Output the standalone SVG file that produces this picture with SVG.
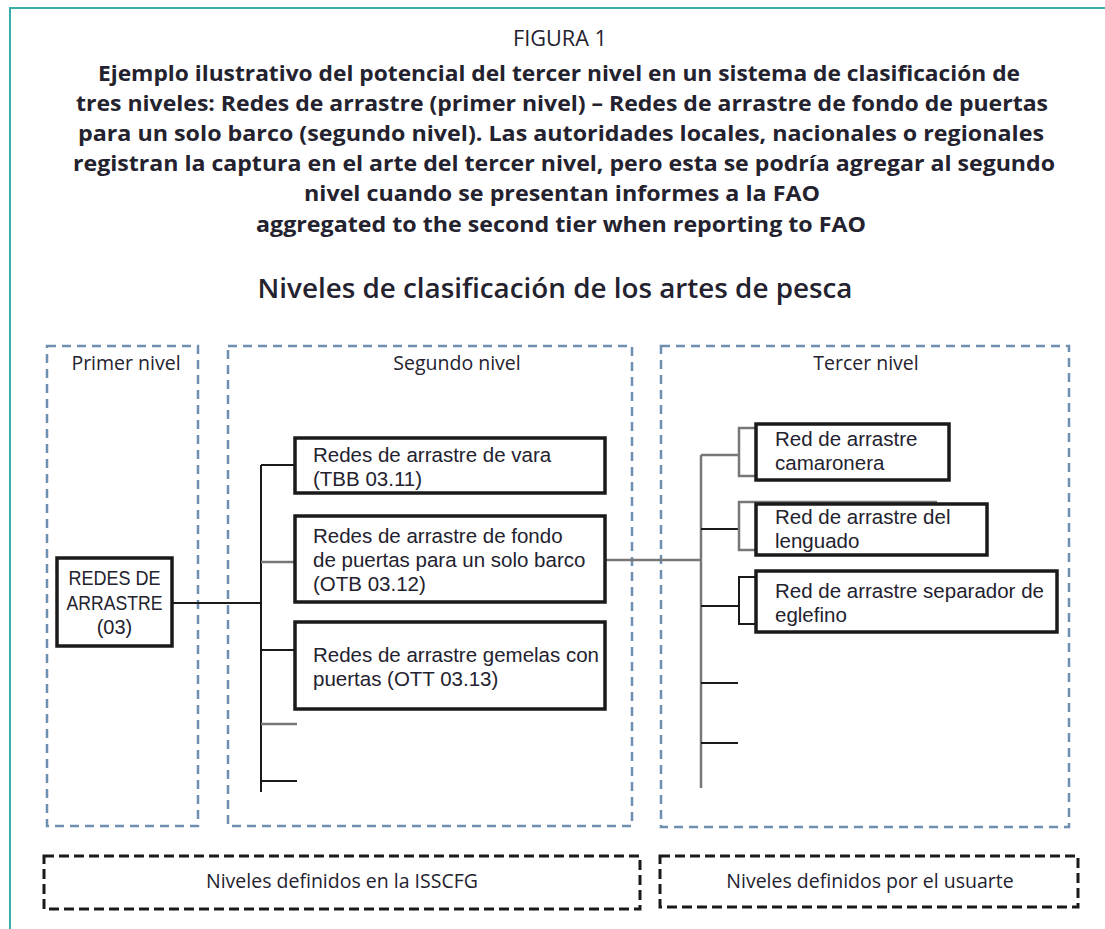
<svg xmlns="http://www.w3.org/2000/svg" width="1105" height="929" viewBox="0 0 1105 929">
<style>
text{font-family:"Open Sans","Noto Sans","Liberation Sans",sans-serif;fill:#23222e}
.t{font-size:21.5px;font-weight:bold;text-anchor:middle}
.lvl{fill:none;stroke:#6e8fb0;stroke-width:2.5;stroke-dasharray:9 6}
.lab{font-size:19.5px;text-anchor:middle}
.node{fill:#fff;stroke:#1a1a1a;stroke-width:3.5}
.nt{font-family:"Liberation Sans",Arial,sans-serif;font-size:20.5px}
.nc{font-family:"Liberation Sans",Arial,sans-serif;font-size:20px;text-anchor:middle}
.blk{fill:none;stroke:#1a1a1a;stroke-width:2}
.gry{fill:none;stroke:#777;stroke-width:2.5}
.foot{fill:none;stroke:#1a1a1a;stroke-width:3;stroke-dasharray:10 5}
</style>
<rect x="0" y="0" width="1105" height="929" fill="#fff"/>
<rect x="10" y="8" width="1120" height="940" fill="none" stroke="#3aaea8" stroke-width="2"/>
<g id="title">
<text x="560" y="46" font-size="21.5" text-anchor="middle" textLength="94" lengthAdjust="spacingAndGlyphs">FIGURA 1</text>
<text class="t" x="559" y="81" textLength="922" lengthAdjust="spacingAndGlyphs">Ejemplo ilustrativo del potencial del tercer nivel en un sistema de clasificación de</text>
<text class="t" x="562" y="111" textLength="972" lengthAdjust="spacingAndGlyphs">tres niveles: Redes de arrastre (primer nivel) – Redes de arrastre de fondo de puertas</text>
<text class="t" x="561" y="141" textLength="966" lengthAdjust="spacingAndGlyphs">para un solo barco (segundo nivel). Las autoridades locales, nacionales o regionales</text>
<text class="t" x="564" y="171" textLength="982" lengthAdjust="spacingAndGlyphs">registran la captura en el arte del tercer nivel, pero esta se podría agregar al segundo</text>
<text class="t" x="562" y="201" textLength="516" lengthAdjust="spacingAndGlyphs">nivel cuando se presentan informes a la FAO</text>
<text class="t" x="561" y="232" textLength="610" lengthAdjust="spacingAndGlyphs">aggregated to the second tier when reporting to FAO</text>
<text x="555" y="298" font-size="27" font-weight="600" text-anchor="middle" textLength="595" lengthAdjust="spacingAndGlyphs">Niveles de clasificación de los artes de pesca</text>
</g>
<g id="level1"><rect class="lvl" x="47" y="346" width="151" height="480"/><text class="lab" x="126" y="370">Primer nivel</text></g>
<g id="level2"><rect class="lvl" x="228" y="346" width="404" height="480"/><text class="lab" x="457" y="370">Segundo nivel</text></g>
<g id="level3"><rect class="lvl" x="661" y="346" width="408" height="481"/><text class="lab" x="866" y="370">Tercer nivel</text></g>
<g id="connectors">
<path class="blk" d="M172,603 H261"/>
<path class="blk" d="M261,465 V792"/>
<path class="blk" d="M261,465 H295"/>
<path class="gry" d="M261,562 H295"/>
<path class="blk" d="M261,650 H295"/>
<path class="gry" d="M261,724 H297"/>
<path class="blk" d="M261,781 H297"/>
<path class="gry" d="M605,560 H701"/>
<path class="gry" d="M701,455 V788"/>
<path class="gry" d="M701,455 H739"/>
<path class="gry" d="M756,428 H739 V476 H756"/>
<path class="blk" d="M701,529 H739"/>
<path class="gry" d="M937,502 H739 V550 H756"/>
<path class="blk" d="M701,606 H739"/>
<path class="blk" d="M756,577 H739 V624 H756"/>
<path class="blk" d="M701,683 H738"/>
<path class="blk" d="M701,743 H738"/>
</g>
<g id="n03"><rect class="node" x="57" y="558" width="115" height="88"/>
<text class="nc" x="114.5" y="585" textLength="92" lengthAdjust="spacingAndGlyphs">REDES DE</text>
<text class="nc" x="114.5" y="610" textLength="96" lengthAdjust="spacingAndGlyphs">ARRASTRE</text>
<text class="nc" x="114.5" y="634">(03)</text></g>
<g id="tbb"><rect class="node" x="295" y="438" width="310" height="55"/>
<text class="nt" x="313" y="462">Redes de arrastre de vara</text>
<text class="nt" x="313" y="486">(TBB 03.11)</text></g>
<g id="otb"><rect class="node" x="295" y="516" width="310" height="86"/>
<text class="nt" x="313" y="543">Redes de arrastre de fondo</text>
<text class="nt" x="313" y="567">de puertas para un solo barco</text>
<text class="nt" x="313" y="591">(OTB 03.12)</text></g>
<g id="ott"><rect class="node" x="295" y="622" width="310" height="87"/>
<text class="nt" x="313" y="662">Redes de arrastre gemelas con</text>
<text class="nt" x="313" y="686">puertas (OTT 03.13)</text></g>
<g id="cam"><rect class="node" x="756" y="424" width="193" height="56"/>
<text class="nt" x="775" y="446">Red de arrastre</text>
<text class="nt" x="775" y="470">camaronera</text></g>
<g id="len"><rect class="node" x="756" y="504" width="231" height="51"/>
<text class="nt" x="775" y="524">Red de arrastre del</text>
<text class="nt" x="775" y="548">lenguado</text></g>
<g id="egl"><rect class="node" x="756" y="571" width="301" height="61"/>
<text class="nt" x="775" y="598">Red de arrastre separador de</text>
<text class="nt" x="775" y="622">eglefino</text></g>
<g id="foot1"><rect class="foot" x="44" y="856" width="596" height="53"/>
<text class="lab" x="342" y="888">Niveles definidos en la ISSCFG</text></g>
<g id="foot2"><rect class="foot" x="660" y="856" width="418" height="51"/>
<text class="lab" x="870" y="888">Niveles definidos por el usuarte</text></g>
</svg>
